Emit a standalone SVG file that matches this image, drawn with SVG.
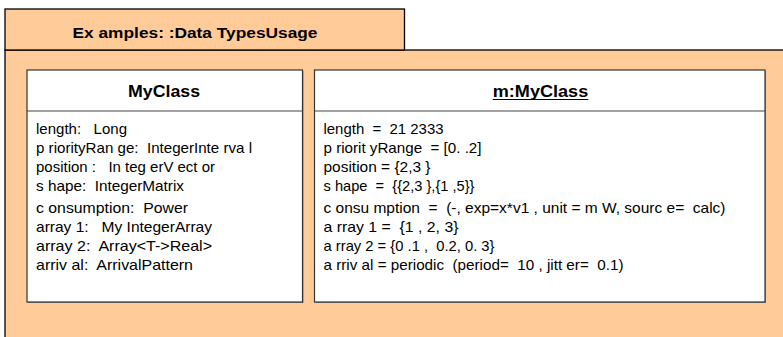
<svg xmlns="http://www.w3.org/2000/svg" width="783" height="337" viewBox="0 0 783 337" xml:space="preserve">
<style>
text{white-space:pre}
.frame{fill:#FFCC99;stroke:#000;stroke-width:1.3}
.box{fill:#fff;stroke:#333;stroke-width:1.2}
.shadow{fill:#888}
.sep{stroke:#444;stroke-width:1.2}
.title{font-family:"Liberation Sans",Arial,sans-serif;font-weight:bold;font-size:14.5px;fill:#000}
.name{font-family:"Liberation Sans",Arial,sans-serif;font-weight:bold;font-size:17px;fill:#000;text-anchor:middle}
.attr{font-family:"Liberation Sans",Arial,sans-serif;font-size:14.5px;fill:#000}
</style>
<rect width="783" height="337" fill="#fff"/>
<g id="package">
<rect class="frame" x="5" y="50" width="790" height="300"/>
<rect class="frame" x="5" y="9" width="399.5" height="41"/>
<text class="title" x="72.5" y="37.7" textLength="245" lengthAdjust="spacingAndGlyphs">Ex amples: :Data TypesUsage</text>
</g>
<g id="MyClass">
<rect class="shadow" x="28" y="71" width="275.5" height="232"/>
<rect class="box" x="27" y="70" width="275.5" height="232"/>
<line class="sep" x1="27" y1="111" x2="302.5" y2="111"/>
<text class="name" x="164" y="96.7" textLength="72" lengthAdjust="spacingAndGlyphs">MyClass</text>
<text class="attr" x="36" y="134" textLength="91" lengthAdjust="spacingAndGlyphs">length:   Long</text>
<text class="attr" x="36" y="153" textLength="216" lengthAdjust="spacingAndGlyphs">p riorityRan ge:  IntegerInte rva l</text>
<text class="attr" x="36" y="172" textLength="179" lengthAdjust="spacingAndGlyphs">position :   In teg erV ect or</text>
<text class="attr" x="36" y="191" textLength="148" lengthAdjust="spacingAndGlyphs">s hape:  IntegerMatrix</text>
<text class="attr" x="36" y="213" textLength="152" lengthAdjust="spacingAndGlyphs">c onsumption:  Power</text>
<text class="attr" x="36" y="232" textLength="176" lengthAdjust="spacingAndGlyphs">array 1:   My IntegerArray</text>
<text class="attr" x="36" y="251" textLength="176" lengthAdjust="spacingAndGlyphs">array 2:  Array&lt;T-&gt;Real&gt;</text>
<text class="attr" x="36" y="270" textLength="157" lengthAdjust="spacingAndGlyphs">arriv al:  ArrivalPattern</text>
</g>
<g id="m_MyClass">
<rect class="shadow" x="315.5" y="71" width="450.5" height="232"/>
<rect class="box" x="314.5" y="70" width="450.5" height="232"/>
<line class="sep" x1="314.5" y1="111" x2="765" y2="111"/>
<text class="name" x="540.5" y="96.7" textLength="95.5" lengthAdjust="spacingAndGlyphs">m:MyClass</text>
<line x1="492.7" y1="99.5" x2="588.3" y2="99.5" stroke="#000" stroke-width="1.2"/>
<text class="attr" x="323.5" y="134" textLength="120" lengthAdjust="spacingAndGlyphs">length  =  21 2333</text>
<text class="attr" x="323.5" y="153" textLength="158" lengthAdjust="spacingAndGlyphs">p riorit yRange  = [0. .2]</text>
<text class="attr" x="323.5" y="172" textLength="107" lengthAdjust="spacingAndGlyphs">position = {2,3 }</text>
<text class="attr" x="323.5" y="191" textLength="151" lengthAdjust="spacingAndGlyphs">s hape  =  {{2,3 },{1 ,5}}</text>
<text class="attr" x="323.5" y="213" textLength="402" lengthAdjust="spacingAndGlyphs">c onsu mption  =  (-, exp=x*v1 , unit = m W, sourc e=  calc)</text>
<text class="attr" x="323.5" y="232" textLength="135" lengthAdjust="spacingAndGlyphs">a rray 1 =  {1 , 2, 3}</text>
<text class="attr" x="323.5" y="251" textLength="171" lengthAdjust="spacingAndGlyphs">a rray 2 = {0 .1 ,  0.2, 0. 3}</text>
<text class="attr" x="323.5" y="270" textLength="300" lengthAdjust="spacingAndGlyphs">a rriv al = periodic  (period=  10 , jitt er=  0.1)</text>
</g>
<g id="connectors"/>
</svg>
